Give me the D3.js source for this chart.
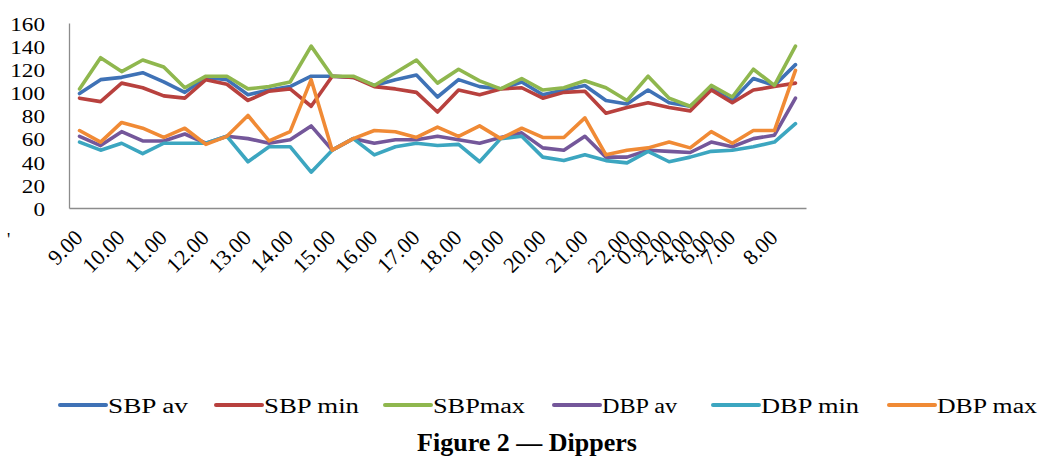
<!DOCTYPE html>
<html lang="en">
<head>
<meta charset="UTF-8" />
<title>Dippers</title>
<script src="https://d3js.org/d3.v7.min.js"></script>
<style>
  body { margin: 0; background: #fff; }
  svg text { font-family: "Times New Roman", "Liberation Serif", Tinos, serif; fill: #000; }
</style>
</head>
<body>
<script>
  // hours on the x axis, "" = a point without a label
  const times = ['9.00', '', '10.00', '', '11.00', '', '12.00', '', '13.00', '', '14.00', '', '15.00', '', '16.00', '', '17.00', '', '18.00', '', '19.00', '', '20.00', '', '21.00', '', '22.00', '0.00', '2.00', '4.00', '6.00', '7.00', '', '8.00', ''];

  const sbpAv = [99, 111, 113, 117, 109, 100, 113, 111, 98, 102, 105, 114, 114, 113, 106, 111, 115, 96, 111, 105, 103, 109, 98, 102, 106, 93, 90, 102, 91, 88, 103, 93, 112, 106, 124];
  const sbpMin = [95, 92, 108, 104, 97, 95, 111, 107, 93, 101, 103, 88, 114, 113, 105, 103, 100, 83, 102, 98, 103, 104, 95, 100, 101, 82, 87, 91, 87, 84, 102, 91, 102, 105, 108];
  const sbpMax = [103, 130, 118, 128, 122, 104, 114, 114, 103, 105, 109, 140, 114, 114, 106, 117, 128, 108, 120, 110, 103, 112, 102, 104, 110, 104, 93, 114, 95, 88, 106, 96, 120, 106, 140];
  const dbpAv = [62, 54, 66, 58, 58, 64, 56, 62, 60, 56, 59, 71, 50, 60, 56, 59, 59, 62, 59, 56, 61, 65, 52, 50, 62, 44, 44, 50, 49, 48, 57, 53, 60, 63, 95];
  const dbpMin = [57, 50, 56, 47, 56, 56, 56, 62, 40, 53, 53, 31, 50, 60, 46, 53, 56, 54, 55, 40, 60, 62, 44, 41, 46, 41, 39, 49, 40, 44, 49, 50, 53, 57, 73];
  const dbpMax = [67, 57, 74, 69, 61, 69, 55, 62, 80, 58, 66, 111, 50, 60, 67, 66, 61, 70, 62, 71, 60, 69, 61, 61, 78, 46, 50, 52, 57, 52, 66, 56, 67, 67, 119];

  const seriesNames = ['SBP av', 'SBP min', 'SBPmax', 'DBP av', 'DBP min', 'DBP max'];
  const seriesValues = [sbpAv, sbpMin, sbpMax, dbpAv, dbpMin, dbpMax];
  const colors = ['#3f72b6', '#b8413e', '#8fb74e', '#74579a', '#3ca6c0', '#f08a35'];

  const yTicks = [0, 20, 40, 60, 80, 100, 120, 140, 160];
  const title = 'Figure 2 \u2014 Dippers';

  const width = 1040, height = 456;
  const plot = { left: 69, right: 806, top: 23, bottom: 208 };
  const serif = '"Times New Roman", "Liberation Serif", Tinos, serif';

  const svg = d3.select('body').append('svg')
    .attr('width', width)
    .attr('height', height);

  const x = d3.scalePoint()
    .domain(d3.range(times.length))
    .range([plot.left, plot.right])
    .padding(0.5);

  const y = d3.scaleLinear()
    .domain([0, 160])
    .range([plot.bottom, plot.top]);

  // y axis
  const yAxis = svg.append('g')
    .attr('transform', `translate(${plot.left},0)`)
    .call(d3.axisLeft(y).tickValues(yTicks).tickSize(0).tickPadding(0));
  yAxis.attr('font-family', serif);
  yAxis.select('.domain').attr('stroke', '#8c8c8c').attr('stroke-width', 1.3);
  yAxis.selectAll('.tick text')
    .attr('x', null)
    .attr('dy', null)
    .attr('text-anchor', 'end')
    .attr('dominant-baseline', 'central')
    .attr('transform', 'translate(-24,1) scale(1.22,1)')
    .style('font-size', '19px');

  // x axis
  const xAxis = svg.append('g')
    .attr('transform', `translate(0,${plot.bottom})`)
    .call(d3.axisBottom(x).tickSize(0).tickFormat(i => times[i]));
  xAxis.attr('font-family', serif);
  xAxis.select('.domain').attr('stroke', '#8c8c8c').attr('stroke-width', 1.3);
  xAxis.selectAll('.tick text')
    .attr('y', null)
    .attr('dy', null)
    .attr('text-anchor', 'end')
    .attr('transform', 'translate(4,31) rotate(-45)')
    .style('font-size', '22px');

  // lines
  const line = d3.line()
    .x((d, i) => x(i))
    .y(d => y(d));

  svg.append('g')
    .selectAll('path')
    .data(seriesValues)
    .join('path')
    .attr('d', line)
    .attr('fill', 'none')
    .attr('stroke', (d, i) => colors[i])
    .attr('stroke-width', 3.6)
    .attr('stroke-linejoin', 'round')
    .attr('stroke-linecap', 'round');

  // stray mark left of the axis labels
  svg.append('text')
    .attr('x', 7)
    .attr('y', 246)
    .style('font-size', '18px')
    .text("'");

  // legend (entry positions and text widths as on the reference)
  const legendX = [60, 216, 385, 554, 713, 889];
  const legendTextW = [80, 95, 92, 75, 98, 100];
  const legend = svg.append('g');
  const items = legend.selectAll('g')
    .data(seriesNames)
    .join('g')
    .attr('transform', (d, i) => `translate(${legendX[i]},405)`);
  items.append('line')
    .attr('x1', 0).attr('x2', 46)
    .attr('y1', 0).attr('y2', 0)
    .attr('stroke', (d, i) => colors[i])
    .attr('stroke-width', 4)
    .attr('stroke-linecap', 'round');
  items.append('text')
    .attr('x', 48)
    .attr('y', 1)
    .attr('dominant-baseline', 'central')
    .attr('textLength', (d, i) => legendTextW[i])
    .attr('lengthAdjust', 'spacingAndGlyphs')
    .style('font-size', '20px')
    .text(d => d);

  // caption
  svg.append('text')
    .attr('x', 527)
    .attr('y', 451)
    .attr('text-anchor', 'middle')
    .style('font-size', '26px')
    .style('font-weight', 'bold')
    .text(title);
</script>
</body>
</html>
